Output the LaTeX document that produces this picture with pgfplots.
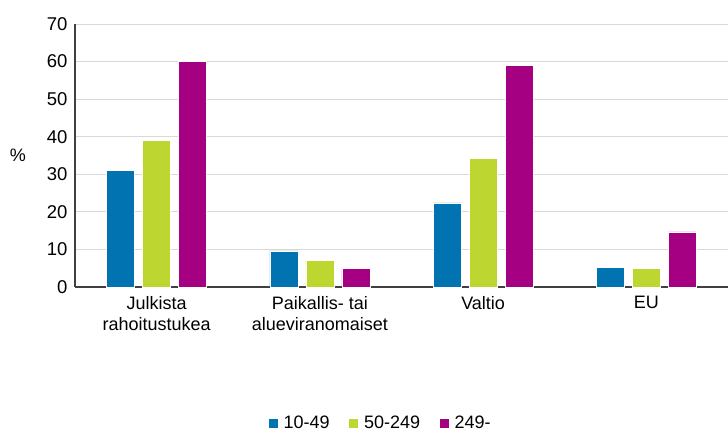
\documentclass[border=0pt]{standalone}
\usepackage{pgfplots}
\pgfplotsset{compat=1.18}
\usepackage{fontspec}
\setmainfont{Liberation Sans}
\definecolor{cblue}{HTML}{0073B0}
\definecolor{cgreen}{HTML}{BED730}
\definecolor{cmag}{HTML}{A50082}
\begin{document}
\begin{tikzpicture}[x=1pt,y=1pt]
\path[use as bounding box] (0,0) rectangle (728,435);
\begin{axis}[
  at={(75pt,148pt)}, anchor=south west,
  scale only axis, width=653pt, height=263pt,
  ybar=8pt, bar width=28pt,
  xmin=-0.5, xmax=3.5, ymin=0, ymax=70,
  xtick={0,1,2,3},
  xticklabels={{Julkista\\rahoitustukea},{Paikallis- tai\\alueviranomaiset},{Valtio},{EU}},
  xticklabel style={align=center, font=\fontsize{18}{21}\selectfont, anchor=north, yshift=-6pt},
  ytick={0,10,...,70},
  yticklabel style={font=\fontsize{18.5}{21}\selectfont, xshift=-4pt},
  /pgf/number format/assume math mode=true,
  major tick length=0pt,
  axis x line*=bottom, axis y line*=left,
  axis line style={draw=black!75, line width=1.3pt},
  ymajorgrids, grid style={draw=black!15, line width=1pt},
  ylabel={\%},
  every axis y label/.style={at={(rel axis cs:0,0.5)}, anchor=center, xshift=-57pt, font=\fontsize{18}{21}\selectfont},
  legend style={at={(0.467,-0.518)}, anchor=center, draw=none, legend columns=-1,
    font=\fontsize{18}{21}\selectfont, column sep=0pt,
    /tikz/every odd column/.append style={column sep=4pt},
    /tikz/every even column/.append style={column sep=17pt},
    nodes={inner sep=1.5pt}},
  legend image code/.code={\fill[#1] (0pt,-4.5pt) rectangle (10pt,5pt);},
  clip=false,
]
\addplot[fill=cblue, draw=white, line width=0.4pt] coordinates {(0,31) (1,9.6) (2,22.4) (3,5.2)};
\addplot[fill=cgreen, draw=white, line width=0.4pt] coordinates {(0,39) (1,7.0) (2,34.3) (3,4.9)};
\addplot[fill=cmag, draw=white, line width=0.4pt] coordinates {(0,60) (1,4.9) (2,59.0) (3,14.7)};
\legend{10-49,50-249,249-}
\end{axis}
\end{tikzpicture}
\end{document}
